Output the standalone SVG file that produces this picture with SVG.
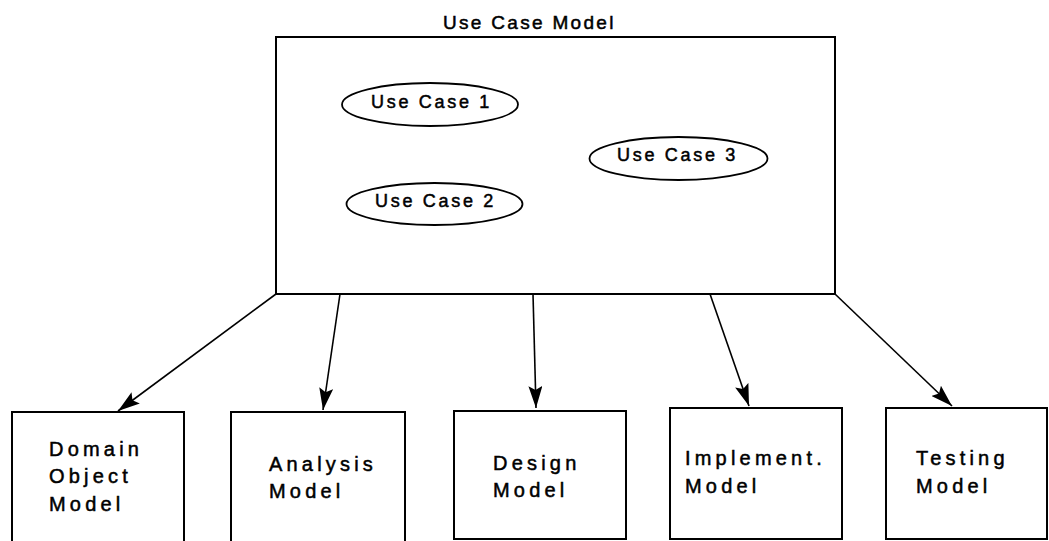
<svg xmlns="http://www.w3.org/2000/svg" width="1049" height="541" viewBox="0 0 1049 541">
  <style>
    .box { fill: #fff; stroke: #000; stroke-width: 2; }
    .uc { fill: #fff; stroke: #000; stroke-width: 1.8; }
    .lbl { font-family: "Liberation Sans", Arial, sans-serif; fill: #000; stroke: #000; stroke-width: 0.5; }
    .title { font-size: 19px; letter-spacing: 2.3px; }
    .uct { font-size: 18px; letter-spacing: 2.7px; }
    .bt { font-size: 20px; letter-spacing: 4.2px; }
    .edge { stroke: #000; stroke-width: 1.6; fill: none; marker-end: url(#head); }
  </style>
  <defs>
    <marker id="head" markerUnits="userSpaceOnUse" markerWidth="24" markerHeight="14" refX="22" refY="7" orient="auto">
      <path d="M0,0 L22,7 L0,14 L4,7 z" fill="#000"/>
    </marker>
  </defs>
  <rect width="1049" height="541" fill="#fff"/>

  <!-- Use case model container -->
  <g id="use-case-model">
    <text class="lbl title" x="443" y="29">Use Case Model</text>
    <rect class="box" x="276" y="37" width="559" height="257"/>
  </g>

  <g id="use-case-1">
    <ellipse class="uc" cx="430" cy="104.5" rx="88" ry="21.5"/>
    <text class="lbl uct" x="371" y="108">Use Case 1</text>
  </g>
  <g id="use-case-2">
    <ellipse class="uc" cx="434.5" cy="204" rx="88" ry="21"/>
    <text class="lbl uct" x="375" y="207">Use Case 2</text>
  </g>
  <g id="use-case-3">
    <ellipse class="uc" cx="678.5" cy="158.5" rx="89" ry="21.5"/>
    <text class="lbl uct" x="617" y="161">Use Case 3</text>
  </g>

  <!-- Derived models -->
  <g id="domain-object-model">
    <rect class="box" x="12" y="412" width="172" height="140"/>
    <text class="lbl bt" x="49" y="456">Domain</text>
    <text class="lbl bt" x="49" y="483">Object</text>
    <text class="lbl bt" x="49" y="511">Model</text>
  </g>
  <g id="analysis-model">
    <rect class="box" x="231" y="412" width="174" height="140"/>
    <text class="lbl bt" x="269" y="471">Analysis</text>
    <text class="lbl bt" x="269" y="498">Model</text>
  </g>
  <g id="design-model">
    <rect class="box" x="454" y="411" width="172" height="128"/>
    <text class="lbl bt" x="493" y="470">Design</text>
    <text class="lbl bt" x="493" y="497">Model</text>
  </g>
  <g id="implement-model">
    <rect class="box" x="670" y="408" width="172" height="131"/>
    <text class="lbl bt" x="685" y="465">Implement.</text>
    <text class="lbl bt" x="685" y="493">Model</text>
  </g>
  <g id="testing-model">
    <rect class="box" x="886" y="408" width="161" height="131"/>
    <text class="lbl bt" x="916" y="465">Testing</text>
    <text class="lbl bt" x="916" y="493">Model</text>
  </g>

  <!-- Connectors -->
  <g id="connectors">
    <line class="edge" x1="276" y1="294" x2="118" y2="411"/>
    <line class="edge" x1="340" y1="294" x2="323" y2="410"/>
    <line class="edge" x1="533" y1="294" x2="536" y2="408"/>
    <line class="edge" x1="710" y1="294" x2="749" y2="406"/>
    <line class="edge" x1="835" y1="294" x2="952" y2="406"/>
  </g>
</svg>
